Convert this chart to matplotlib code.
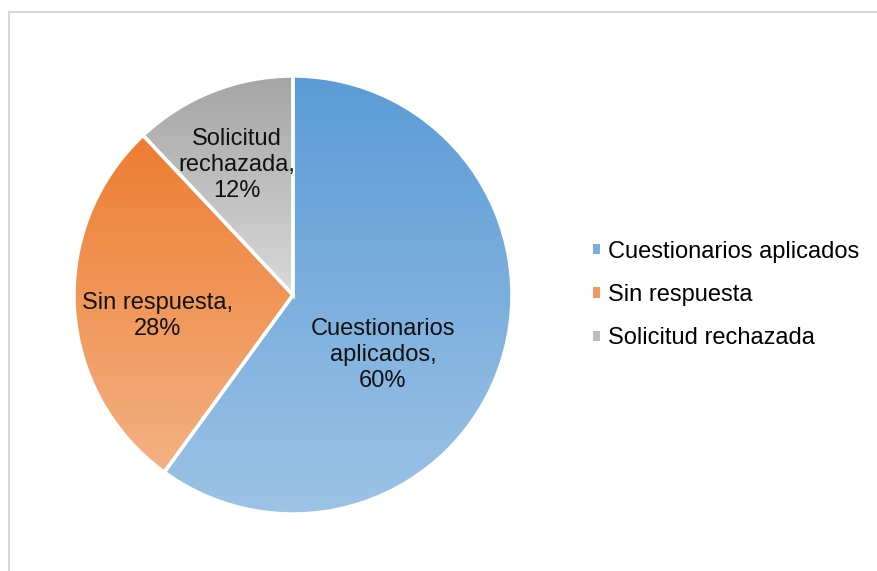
import numpy as np
import matplotlib.pyplot as plt
from matplotlib.colors import to_rgb
from matplotlib.patches import Rectangle

plt.rcParams['font.family'] = ['Liberation Sans', 'DejaVu Sans']

labels = ['Cuestionarios aplicados', 'Sin respuesta', 'Solicitud rechazada']
slice_labels = ['Cuestionarios\naplicados,\n60%', 'Sin respuesta,\n28%', 'Solicitud\nrechazada,\n12%']
values = [60, 28, 12]
top_colors = ['#5B9BD5', '#ED7D31', '#A5A5A5']
bottom_colors = ['#9DC3E6', '#F4B183', '#D9D9D9']

W, H = 878, 571
fig = plt.figure(figsize=(W / 100, H / 100), dpi=100)

# light frame around chart area (cut off at right / bottom like the source)
fig.add_artist(Rectangle((9 / W, -0.1), 1.2, 1 - 12 / H + 0.1, transform=fig.transFigure,
                         fill=False, edgecolor='#D9D9D9', lw=1.5))

cx, cy, r = 293, 295, 219
ax = fig.add_axes([(cx - r) / W, (H - cy - r) / H, 2 * r / W, 2 * r / H])
wedges, texts = ax.pie(values, startangle=90, counterclock=False, radius=1,
                       colors=top_colors,
                       wedgeprops=dict(edgecolor='white', linewidth=2.5))
ax.set_aspect('equal')
ax.axis('off')

# vertical gradient fill per wedge
for w, c0, c1 in zip(wedges, top_colors, bottom_colors):
    verts = w.get_path().vertices
    y0, y1 = verts[:, 1].min(), verts[:, 1].max()
    x0, x1 = verts[:, 0].min(), verts[:, 0].max()
    t = np.linspace(0, 1, 256)[:, None]
    grad = (1 - t) * np.array(to_rgb(c0)) + t * np.array(to_rgb(c1))
    img = ax.imshow(grad[:, None, :].repeat(2, axis=1), extent=[x0, x1, y0, y1],
                    origin='upper', aspect='auto', zorder=w.get_zorder() + 0.1)
    img.set_clip_path(w)
    w.set_facecolor('none')
    w.set_zorder(w.get_zorder() + 0.2)

ax.set_xlim(-1, 1)
ax.set_ylim(-1, 1)

# slice labels
label_px = [(383, 355), (158, 316), (237, 165)]
for txt, (px, py) in zip(slice_labels, label_px):
    ax.text((px - cx) / r, (cy - py) / r, txt, ha='center', va='center',
            fontsize=17, color='#111111', linespacing=1.22, zorder=5)

handles = [Rectangle((0, 0), 1, 1, facecolor=c, edgecolor='none') for c in ['#7AAEE0', '#F09A62', '#BDBDBD']]
fig.legend(handles, labels, loc='center left', bbox_to_anchor=(593 / W, 1 - 295 / H),
           frameon=False, fontsize=17, handlelength=0.3, handleheight=0.3,
           handletextpad=0.35, labelspacing=0.9, borderpad=0, borderaxespad=0)

fig.savefig('out.png', dpi=100)
